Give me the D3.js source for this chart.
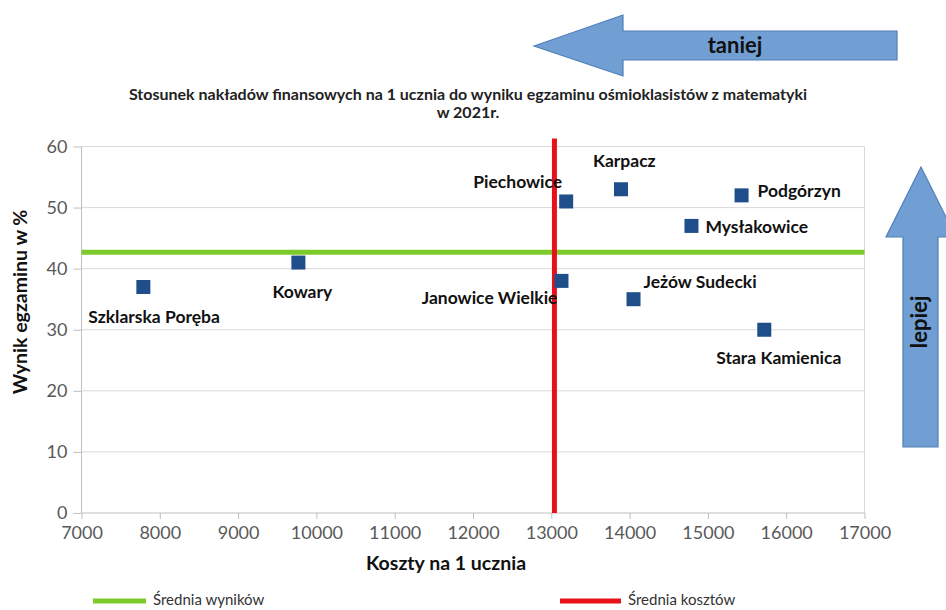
<!DOCTYPE html>
<meta charset="utf-8">
<script src="https://d3js.org/d3.v7.min.js"></script>
<style type="text/css">
body { margin: 0; background: #fff; }
svg { display: block; font-family: Lato, "Open Sans", sans-serif; }
.axis path, .axis line { stroke: #bfbfbf; }
.axis text { fill: #595959; font-size: 18px; font-family: Lato, sans-serif; }
.grid line { stroke: #d9d9d9; stroke-width: 1; }
.lbl { font-weight: bold; font-size: 17.5px; fill: #111; }
</style>
<body></body>
<script>

// data
var gminy = ["Szklarska Poręba", "Kowary", "Janowice Wielkie", "Piechowice", "Karpacz",
             "Jeżów Sudecki", "Mysłakowice", "Podgórzyn", "Stara Kamienica"];
var koszty = [7790, 9770, 13130, 13190, 13890, 14050, 14790, 15430, 15720];
var wyniki = [37, 41, 38, 51, 53, 35, 47, 52, 30];
var sredniaWynikow = 42.7;
var sredniaKosztow = 13040;
var xTicks = [7000, 8000, 9000, 10000, 11000, 12000, 13000, 14000, 15000, 16000, 17000];
var yTicks = [0, 10, 20, 30, 40, 50, 60];

// label placement (offsets from the marker, px)
var labelDx = [-55, -26, -4, -4, -28, 10, 14, 16, -48];
var labelDy = [36, 35, 23, -13, -22, -11, 7, 2, 34];
var labelAnchor = ["start", "start", "end", "end", "start", "start", "start", "start", "start"];

var margin = {top: 146.5, right: 81.5, bottom: 97, left: 81.5};
var W = 946, H = 610;
var width = W - margin.left - margin.right,
    height = H - margin.top - margin.bottom;

var root = d3.select("body").append("svg")
    .attr("width", W)
    .attr("height", H);

// arrows
function arrow(pts, txt, tx, ty, rot) {
  root.append("polygon")
    .attr("points", pts.map(function(p) { return p.join(","); }).join(" "))
    .attr("fill", "#729fd3")
    .attr("stroke", "#4f7fb8")
    .attr("stroke-width", 1.2);
  root.append("text")
    .attr("transform", "translate(" + tx + "," + ty + ")" + (rot ? " rotate(" + rot + ")" : ""))
    .attr("text-anchor", "middle")
    .attr("dy", "0.35em")
    .style("font-weight", "bold")
    .style("font-size", "22px")
    .style("fill", "#111")
    .text(txt);
}
arrow([[534,46],[623,15],[623,31],[897,31],[897,60],[623,60],[623,76]], "taniej", 735, 45, 0);
arrow([[921,167],[956,237],[938,237],[938,447],[903,447],[903,237],[886,237]], "lepiej", 919, 322, -90);

// title
root.append("text")
  .attr("x", 468).attr("y", 100)
  .attr("text-anchor", "middle")
  .style("font-weight", "bold").style("font-size", "16px").style("fill", "#222")
  .text("Stosunek nakładów finansowych na 1 ucznia do wyniku egzaminu ośmioklasistów z matematyki");
root.append("text")
  .attr("x", 468).attr("y", 118)
  .attr("text-anchor", "middle")
  .style("font-weight", "bold").style("font-size", "16px").style("fill", "#222")
  .text("w 2021r.");

var svg = root.append("g")
    .attr("transform", "translate(" + margin.left + "," + margin.top + ")");

var xScale = d3.scaleLinear().domain([7000, 17000]).range([0, width]);
var yScale = d3.scaleLinear().domain([0, 60]).range([height, 0]);

var xAxis = d3.axisBottom(xScale).tickValues(xTicks).tickSize(6).tickPadding(7).tickFormat(d3.format("d"));
var yAxis = d3.axisLeft(yScale).tickValues(yTicks).tickSize(8).tickPadding(6);

// gridlines
svg.append("g").attr("class", "grid")
  .selectAll("line")
  .data(yTicks.filter(function(d) { return d > 0; }))
  .enter().append("line")
  .attr("x1", 0).attr("x2", width)
  .attr("y1", function(d) { return yScale(d); })
  .attr("y2", function(d) { return yScale(d); });

svg.append("line")
  .attr("x1", width).attr("x2", width)
  .attr("y1", 0).attr("y2", height)
  .attr("stroke", "#d9d9d9");

svg.append("g").attr("class", "x axis")
  .attr("transform", "translate(0," + height + ")")
  .call(xAxis)
  .call(function(g) { g.select(".domain").attr("d", "M0,0H" + width); });

svg.append("g").attr("class", "y axis")
  .call(yAxis)
  .call(function(g) { g.select(".domain").attr("d", "M0,0V" + height); });

// average lines
svg.append("line")
  .attr("x1", 0).attr("x2", width)
  .attr("y1", yScale(sredniaWynikow)).attr("y2", yScale(sredniaWynikow))
  .attr("stroke", "#7ccb2a").attr("stroke-width", 5);

svg.append("line")
  .attr("x1", xScale(sredniaKosztow)).attr("x2", xScale(sredniaKosztow))
  .attr("y1", -8).attr("y2", height)
  .attr("stroke", "#e8111a").attr("stroke-width", 5);

// points
var idx = d3.range(gminy.length);
var sq = 14;
svg.selectAll(".pt")
  .data(idx)
  .enter().append("rect")
  .attr("class", "pt")
  .attr("x", function(i) { return xScale(koszty[i]) - sq / 2; })
  .attr("y", function(i) { return yScale(wyniki[i]) - sq / 2; })
  .attr("width", sq).attr("height", sq)
  .style("fill", "#1f4e8a");

svg.selectAll(".lbl")
  .data(idx)
  .enter().append("text")
  .attr("class", "lbl")
  .attr("x", function(i) { return xScale(koszty[i]) + labelDx[i]; })
  .attr("y", function(i) { return yScale(wyniki[i]) + labelDy[i]; })
  .attr("text-anchor", function(i) { return labelAnchor[i]; })
  .text(function(i) { return gminy[i]; });

// axis titles
root.append("text")
  .attr("x", 446).attr("y", 570)
  .attr("text-anchor", "middle")
  .style("font-weight", "bold").style("font-size", "19.5px").style("fill", "#111")
  .text("Koszty na 1 ucznia");

root.append("text")
  .attr("transform", "translate(27,302) rotate(-90)")
  .attr("text-anchor", "middle")
  .style("font-weight", "bold").style("font-size", "19.5px").style("fill", "#111")
  .text("Wynik egzaminu w %");

// legend
var legend = [
  {name: "Średnia wyników", color: "#7ccb2a", x: 93, w: 53},
  {name: "Średnia kosztów", color: "#e8111a", x: 560, w: 61}
];
legend.forEach(function(l) {
  root.append("line")
    .attr("x1", l.x).attr("x2", l.x + l.w)
    .attr("y1", 601).attr("y2", 601)
    .attr("stroke", l.color).attr("stroke-width", 5);
  root.append("text")
    .attr("x", l.x + l.w + 7).attr("y", 605)
    .style("font-size", "15px").style("fill", "#333")
    .text(l.name);
});

</script>
